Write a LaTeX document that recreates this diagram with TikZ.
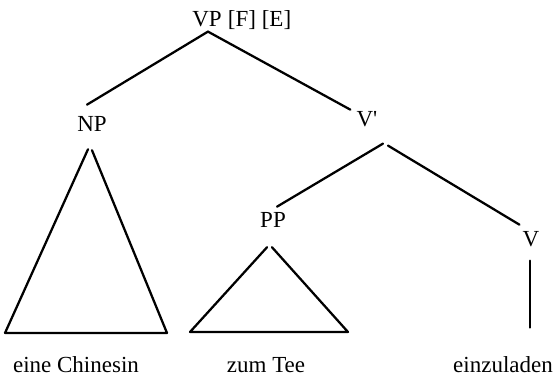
\documentclass[tikz,border=0pt]{standalone}
\usepackage{fontspec}
\setmainfont{Liberation Serif}
\usetikzlibrary{calc}

\tikzset{
  cat/.style={inner sep=0pt, anchor=base, font=\fontsize{17.25pt}{20pt}\selectfont},
  word/.style={cat},
  branch/.style={line width=1.7pt, line cap=round, line join=round},
}

\begin{document}
\begin{tikzpicture}[x=0.75pt, y=-0.75pt]
  \useasboundingbox (0,0) rectangle (555,377);

  % category labels
  \node[cat, anchor=base west] (vp) at (192,27) {VP};
  \node[cat, anchor=base west] (feat) at ($(vp.base east)+(5.75,0)$) {[F] [E]};
  \node[cat] (np) at (92,132) {NP};
  \node[cat] (vbar) at (367,127) {V\textquotesingle};
  \node[cat] (pp) at (273,228) {PP};
  \node[cat] (v) at (531,246) {V};

  % terminal strings
  \node[word] (chin) at (76,372) {eine Chinesin};
  \node[word] (tee) at (266,372) {zum Tee};
  \node[word] (ein) at (503,372) {einzuladen};

  % triangle base corners
  \coordinate (npL) at (5,333);
  \coordinate (npR) at (167,333);
  \coordinate (ppL) at (190,332);
  \coordinate (ppR) at (348,332);

  % branches
  \draw[branch] ($(vp.south)+(1,4)$) -- ($(np.north)+(-5,-12)$);
  \draw[branch] ($(vp.south)+(1,4)$) -- ($(vbar.north west)+(-6,-2)$);
  \draw[branch] ($(vbar.south)+(16,16)$) -- ($(pp.north)+(4,-6)$);
  \draw[branch] ($(vbar.south)+(21,18)$) -- ($(v.north west)+(-3,-6)$);
  \draw[branch] ($(v.south)+(-1,14)$) -- ++(0,67);

  % collapsed subtrees
  \draw[branch] ($(np.south)+(-4,17)$) -- (npL) -- (npR) -- ($(np.south)+(0,18)$);
  \draw[branch] ($(pp.south)+(-6,19)$) -- (ppL) -- (ppR) -- ($(pp.south)+(-1,19)$);
\end{tikzpicture}
\end{document}
